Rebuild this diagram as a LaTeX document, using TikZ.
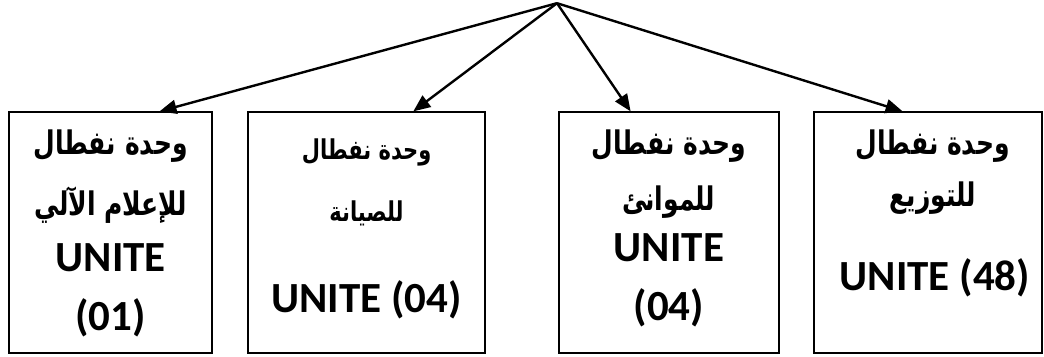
\documentclass[tikz,border=0pt]{standalone}
\usepackage{fontspec}
\setmainfont{Carlito}
\newfontfamily\arabicfont[Script=Arabic]{DejaVu Sans}
\TeXXeTstate=1
\usetikzlibrary{calc,arrows.meta}

\newcommand{\artext}[1]{\scalebox{1}[1.3]{\beginR #1\endR}}

\tikzset{
  unitbox/.style={draw=black,line width=1.6pt,fill=white,inner sep=0pt},
  arline/.style={font=\arabicfont\bfseries\fontsize{25}{30}\selectfont,inner sep=0pt},
  arsmall/.style={font=\arabicfont\bfseries\fontsize{21}{26}\selectfont,inner sep=0pt},
  latline/.style={font=\bfseries\fontsize{43}{50}\selectfont,inner sep=0pt},
  branch/.style={line width=2.4pt,-{Triangle[length=17pt,width=14pt]}}
}

\begin{document}
\begin{tikzpicture}[x=1pt,y=1pt]
\filldraw[color=white] (0.000000, 0.000000) rectangle (1044.000000, 356.000000);
\useasboundingbox (0.000000, 0.000000) rectangle (1044.000000, 356.000000);
% Drawing boxes
% Box 1: informatique
\node[unitbox,minimum width=203pt,minimum height=241pt] (b1) at (110.500000, 123.500000) {};
\node[arline] (b1l1) at (110.500000, 210.000000) {\artext{وحدة نفطال}};
\node[arline] (b1l2) at (110.500000, 151.000000) {\artext{للإعلام الآلي}};
\node[latline] (b1l3) at (110.500000, 98.000000) {UNITE};
\node[latline] (b1l4) at (110.500000, 38.000000) {(01)};
% Box 2: maintenance
\node[unitbox,minimum width=237pt,minimum height=241pt] (b2) at (366.500000, 123.500000) {};
\node[arsmall] (b2l1) at (366.500000, 204.000000) {\artext{وحدة نفطال}};
\node[arsmall] (b2l2) at (366.500000, 143.000000) {\artext{للصيانة}};
\node[latline] (b2l3) at (366.500000, 56.000000) {UNITE (04)};
% Box 3: ports
\node[unitbox,minimum width=220pt,minimum height=241pt] (b3) at (669.000000, 123.500000) {};
\node[arline] (b3l1) at (669.000000, 210.000000) {\artext{وحدة نفطال}};
\node[arline] (b3l2) at (669.000000, 154.000000) {\artext{للموانئ}};
\node[latline] (b3l3) at (669.000000, 108.000000) {UNITE};
\node[latline] (b3l4) at (669.000000, 48.000000) {(04)};
% Box 4: distribution
\node[unitbox,minimum width=228pt,minimum height=241pt] (b4) at (928.000000, 123.500000) {};
\node[arline] (b4l1) at (933.000000, 210.000000) {\artext{وحدة نفطال}};
\node[arline] (b4l2) at (933.000000, 158.000000) {\artext{للتوزيع}};
\node[latline] (b4l3) at (935.000000, 78.000000) {UNITE (48)};
% Done with boxes; drawing arrows
\coordinate (top) at (557.000000, 353.000000);
\draw[branch] (top) -- ($(b1.north west)!0.739!(b1.north east)$);
\draw[branch] (top) -- ($(b2.north west)!0.696!(b2.north east)$);
\draw[branch] (top) -- ($(b3.north west)!0.327!(b3.north east)$);
\draw[branch] (top) -- ($(b4.north west)!0.390!(b4.north east)$);
% Done with arrows
\end{tikzpicture}
\end{document}
